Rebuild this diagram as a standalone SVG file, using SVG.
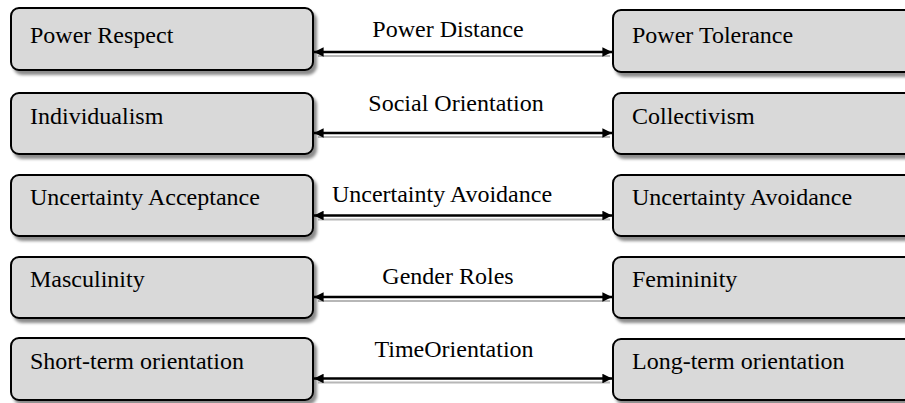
<svg xmlns="http://www.w3.org/2000/svg" width="905" height="403" viewBox="0 0 905 403">
<defs>
<filter id="sh" x="-10%" y="-20%" width="130%" height="160%">
<feDropShadow dx="3" dy="4" stdDeviation="1.5" flood-color="#000" flood-opacity="0.45"/>
</filter>
<marker id="ah" viewBox="0 0 10 10" refX="10" refY="5" markerWidth="5" markerHeight="4" markerUnits="strokeWidth" orient="auto-start-reverse">
<path d="M0,0 L10,5 L0,10 z" fill="#000"/>
</marker>
</defs>
<style>
.box{fill:#d9d9d9;stroke:#000;stroke-width:2;filter:url(#sh)}
.t{font-family:"Liberation Serif","DejaVu Serif",serif;font-size:24px;fill:#000}
.lbl{text-anchor:middle}
.con{stroke:#000;stroke-width:2.4;fill:none;marker-start:url(#ah);marker-end:url(#ah)}
.csh{stroke:#999;stroke-width:2;fill:none;opacity:0.7}
</style>
<g id="connectors">
<line class="csh" x1="318" y1="56" x2="610" y2="56"/>
<line class="csh" x1="318" y1="137" x2="610" y2="137"/>
<line class="csh" x1="318" y1="219.5" x2="610" y2="219.5"/>
<line class="csh" x1="318" y1="301" x2="610" y2="301"/>
<line class="csh" x1="318" y1="382.5" x2="610" y2="382.5"/>
<line class="con" x1="314" y1="52" x2="612" y2="52"/>
<line class="con" x1="314" y1="133" x2="612" y2="133"/>
<line class="con" x1="314" y1="215.5" x2="612" y2="215.5"/>
<line class="con" x1="314" y1="297" x2="612" y2="297"/>
<line class="con" x1="314" y1="378.5" x2="612" y2="378.5"/>
<text class="t lbl" x="448" y="37">Power Distance</text>
<text class="t lbl" x="456" y="111">Social Orientation</text>
<text class="t lbl" x="442" y="202">Uncertainty Avoidance</text>
<text class="t lbl" x="448" y="284">Gender Roles</text>
<text class="t lbl" x="454" y="357">TimeOrientation</text>
</g>
<g id="n1"><rect class="box" x="11" y="8" width="302" height="62" rx="8"/><text class="t" x="30" y="43">Power Respect</text></g>
<g id="n2"><rect class="box" x="613" y="10" width="310" height="62" rx="8"/><text class="t" x="632" y="43">Power Tolerance</text></g>
<g id="n3"><rect class="box" x="11" y="93" width="302" height="61" rx="8"/><text class="t" x="30" y="124">Individualism</text></g>
<g id="n4"><rect class="box" x="613" y="93" width="310" height="61" rx="8"/><text class="t" x="632" y="124">Collectivism</text></g>
<g id="n5"><rect class="box" x="11" y="175" width="302" height="61" rx="8"/><text class="t" x="30" y="205">Uncertainty Acceptance</text></g>
<g id="n6"><rect class="box" x="613" y="175" width="310" height="61" rx="8"/><text class="t" x="632" y="205">Uncertainty Avoidance</text></g>
<g id="n7"><rect class="box" x="11" y="257" width="302" height="61" rx="8"/><text class="t" x="30" y="287">Masculinity</text></g>
<g id="n8"><rect class="box" x="613" y="257" width="310" height="61" rx="8"/><text class="t" x="632" y="287">Femininity</text></g>
<g id="n9"><rect class="box" x="11" y="338" width="302" height="62" rx="8"/><text class="t" x="30" y="369">Short-term orientation</text></g>
<g id="n10"><rect class="box" x="613" y="339" width="310" height="61" rx="8"/><text class="t" x="632" y="369">Long-term orientation</text></g>
</svg>
